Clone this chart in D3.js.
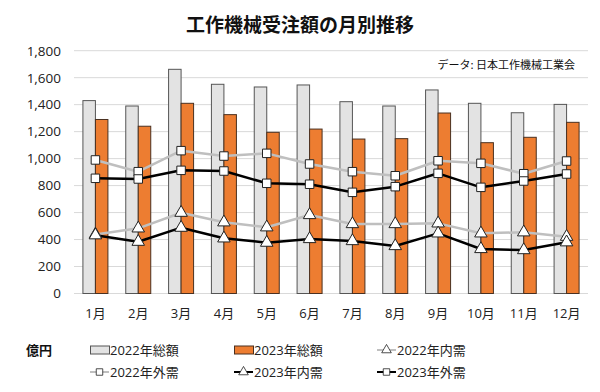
<!DOCTYPE html>
<html><head><meta charset="utf-8">
<script src="https://cdn.jsdelivr.net/npm/d3@7/dist/d3.min.js"></script>
<style>body{margin:0;background:#fff}svg{display:block}</style>
</head><body>
<svg id="c" width="600" height="392"></svg>
<script>
const months = ["1月","2月","3月","4月","5月","6月","7月","8月","9月","10月","11月","12月"];
const total2022 = [1430,1390,1662,1551,1531,1546,1422,1390,1509,1410,1340,1402];
const total2023 = [1290,1240,1410,1326,1195,1219,1145,1148,1338,1118,1158,1269];
const dom2022 = [438,483,599,528,491,582,515,515,520,446,454,421];
const ext2022 = [990,903,1059,1019,1039,960,903,873,984,965,888,982];
const dom2023 = [432,384,488,409,377,404,389,352,446,330,322,380];
const ext2023 = [854,849,913,908,817,810,750,792,891,787,834,886];
const yTicks = [0,200,400,600,800,1000,1200,1400,1600,1800];
const title = "工作機械受注額の月別推移";
const source = "データ: 日本工作機械工業会";
const unit = "億円";

const svg = d3.select("#c");
const font = "'Open Sans','Noto Sans CJK JP',sans-serif";
const x = d3.scaleBand().domain(months).range([74, 588]).padding(0);
const y = d3.scaleLinear().domain([0, 1800]).range([293.5, 50.7]);

// grid
svg.append("g").selectAll("line").data(yTicks).join("line")
  .attr("x1", 74).attr("x2", 588)
  .attr("y1", d => y(d)).attr("y2", d => y(d))
  .attr("stroke", "#d9d9d9").attr("stroke-width", 1);

// y axis
const yAxis = d3.axisLeft(y).tickValues(yTicks).tickSize(0).tickPadding(0)
  .tickFormat(d3.format(","));
const ya = svg.append("g").attr("transform", "translate(61,0)").call(yAxis);
ya.select(".domain").remove();
ya.selectAll("text").attr("font-family", font).attr("font-size", 13.5).attr("fill", "#222");

// x axis
const xAxis = d3.axisBottom(x).tickSize(0).tickPadding(0);
const xa = svg.append("g").attr("transform", "translate(0,309)").call(xAxis);
xa.select(".domain").remove();
xa.selectAll("text").attr("font-family", font).attr("font-size", 13).attr("fill", "#222");

// bars
const bw = 12.5;
const cx = m => x(m) + x.bandwidth() / 2;
svg.append("g").selectAll("rect").data(months).join("rect")
  .attr("x", m => cx(m) - bw).attr("width", bw)
  .attr("y", (m, i) => y(total2022[i])).attr("height", (m, i) => y(0) - y(total2022[i]))
  .attr("fill", "#e3e3e3").attr("stroke", "#555").attr("stroke-width", 1);
svg.append("g").selectAll("rect").data(months).join("rect")
  .attr("x", m => cx(m)).attr("width", bw)
  .attr("y", (m, i) => y(total2023[i])).attr("height", (m, i) => y(0) - y(total2023[i]))
  .attr("fill", "#ed7d31").attr("stroke", "#4a3020").attr("stroke-width", 1);

// lines
const series = [
  {vals: ext2022, color: "#bfbfbf", marker: "square"},
  {vals: dom2022, color: "#bfbfbf", marker: "triangle"},
  {vals: ext2023, color: "#000", marker: "square"},
  {vals: dom2023, color: "#000", marker: "triangle"}
];
const line = d3.line().x((d, i) => cx(months[i])).y(d => y(d));
const sym = {
  square: d3.symbol().type(d3.symbolSquare).size(72),
  triangle: d3.symbol().type(d3.symbolTriangle).size(68)
};
series.forEach(s => {
  svg.append("path").attr("d", line(s.vals)).attr("fill", "none")
    .attr("stroke", s.color).attr("stroke-width", 2.5).attr("stroke-linejoin", "round");
});
series.forEach(s => {
  svg.append("g").selectAll("path").data(s.vals).join("path")
    .attr("d", sym[s.marker]())
    .attr("transform", (d, i) => `translate(${cx(months[i])},${y(d)})`)
    .attr("fill", "#fff").attr("stroke", "#222").attr("stroke-width", 1);
});

// title
svg.append("text").attr("x", 300).attr("y", 32).attr("text-anchor", "middle")
  .attr("font-family", "'Noto Sans CJK JP',sans-serif").attr("font-weight", "bold")
  .attr("font-size", 19).attr("fill", "#111").text(title);
svg.append("text").attr("x", 575).attr("y", 69).attr("text-anchor", "end")
  .attr("font-family", "'Noto Sans CJK JP',sans-serif")
  .attr("font-size", 11).attr("fill", "#111").text(source);

// legend
svg.append("text").attr("x", 26).attr("y", 355)
  .attr("font-family", "'Noto Sans CJK JP',sans-serif").attr("font-weight", "bold")
  .attr("font-size", 13).attr("fill", "#111").text(unit);
const legend = [
  {label: "2022年総額", type: "rect", fill: "#e3e3e3", stroke: "#555", col: 0, row: 0},
  {label: "2023年総額", type: "rect", fill: "#ed7d31", stroke: "#4a3020", col: 1, row: 0},
  {label: "2022年内需", type: "line", color: "#bfbfbf", marker: "triangle", col: 2, row: 0},
  {label: "2022年外需", type: "line", color: "#bfbfbf", marker: "square", col: 0, row: 1},
  {label: "2023年内需", type: "line", color: "#000", marker: "triangle", col: 1, row: 1},
  {label: "2023年外需", type: "line", color: "#000", marker: "square", col: 2, row: 1}
];
const colX = [90, 234, 377];
const rowY = [350, 372];
legend.forEach(l => {
  const g = svg.append("g").attr("transform", `translate(${colX[l.col]},${rowY[l.row]})`);
  if (l.type === "rect") {
    g.append("rect").attr("x", 0.5).attr("y", -4).attr("width", 19).attr("height", 8)
      .attr("fill", l.fill).attr("stroke", l.stroke);
  } else {
    g.append("line").attr("x1", 0).attr("x2", 19).attr("y1", 0).attr("y2", 0)
      .attr("stroke", l.color).attr("stroke-width", 2);
    g.append("path").attr("d", d3.symbol().type(l.marker === "square" ? d3.symbolSquare : d3.symbolTriangle).size(l.marker === "square" ? 42 : 40)())
      .attr("transform", "translate(9.5,0)").attr("fill", "#fff").attr("stroke", "#222").attr("stroke-width", 0.8);
  }
  g.append("text").attr("x", 20).attr("y", 0).attr("dy", "0.36em")
    .attr("font-family", font).attr("font-size", 13).attr("fill", "#222").text(l.label);
});
</script>
</body></html>
